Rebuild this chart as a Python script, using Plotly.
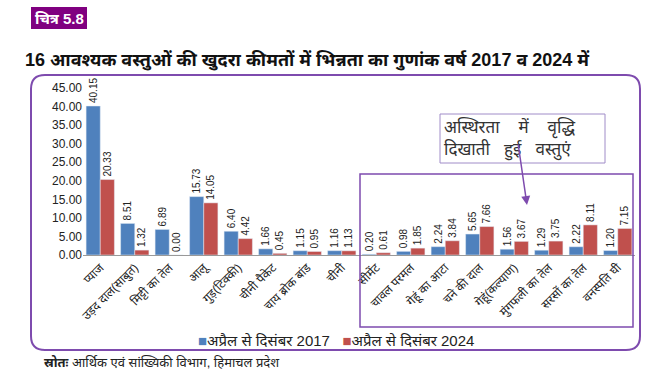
import plotly.graph_objects as go

categories = ["प्याज", "उड़द दाल(साबुत)", "मिट्टी का तेल", "आलू", "गुड़(टिक्की)", "चीनी पैकेट",
              "चाय ब्रोक बांड", "चीनी", "सीमेंट", "चावल परमल", "गेहूं का आटा", "चने की दाल",
              "गेहूं(कल्याण)", "मुंगफली का तेल", "सरसों का तेल", "वनस्पति घी"]
values_2017 = [40.15, 8.51, 6.89, 15.73, 6.40, 1.66, 1.15, 1.16, 0.20, 0.98, 2.24, 5.65, 1.56, 1.29, 2.22, 1.20]
values_2024 = [20.33, 1.32, 0.00, 14.05, 4.42, 0.45, 0.95, 1.13, 0.61, 1.85, 3.84, 7.66, 3.67, 3.75, 8.11, 7.15]
series_names = ["अप्रैल से दिसंबर 2017", "अप्रैल से दिसंबर 2024"]
y_ticks = [0, 5, 10, 15, 20, 25, 30, 35, 40, 45]

BLUE = "#4F81BD"
RED = "#C0504D"
PURPLE = "#7E4BAE"
FONT = "Liberation Sans, Noto Sans, sans-serif"

fig = go.Figure()
for name, vals, col in [(series_names[0], values_2017, BLUE), (series_names[1], values_2024, RED)]:
    fig.add_trace(go.Bar(
        x=categories, y=vals, name=name, marker_color=col,
        text=[f"{v:.2f}" for v in vals], textposition="outside", textangle=-90,
        textfont=dict(size=10, color="#222", family=FONT),
        cliponaxis=False, constraintext="none", showlegend=False,
    ))

fig.update_layout(
    width=668, height=379,
    margin=dict(l=83, r=33, t=88, b=124),
    paper_bgcolor="white", plot_bgcolor="white",
    barmode="group", bargap=0.18, bargroupgap=0,
    font=dict(family=FONT, color="#222"),
    showlegend=False,
)
fig.update_xaxes(tickangle=-45, tickfont=dict(size=12, color="#222"), showline=True,
                 linecolor="#999", linewidth=1, ticks="")
fig.update_yaxes(range=[0, 45], tickvals=y_ticks, ticktext=[f"{t:.2f}" for t in y_ticks],
                 tickfont=dict(size=12, color="#222"), showgrid=False, zeroline=False,
                 showline=False)

W, H = 668, 379
L, R, T, B = 83, 33, 88, 124
pw, ph = W - L - R, H - T - B
def px(x): return (x - L) / pw
def py(y): return (H - B - y) / ph

# Header label
fig.add_shape(type="rect", xref="paper", yref="paper", x0=px(31), x1=px(87), y0=py(29), y1=py(7),
              fillcolor="#800080", line=dict(width=0), layer="below")
fig.add_annotation(xref="paper", yref="paper", x=px(59), y=py(18), xanchor="center", yanchor="middle",
                   text="<b>चित्र 5.8</b>", showarrow=False,
                   font=dict(size=15, color="white", family=FONT))
# Title
fig.add_annotation(xref="paper", yref="paper", x=px(23), y=py(60), xanchor="left", yanchor="middle",
                   text="<b>16 आवश्यक वस्तुओं की खुदरा कीमतों में भिन्नता का गुणांक वर्ष 2017 व 2024 में</b>",
                   showarrow=False, font=dict(size=18, color="#111", family=FONT))
# Legend (manual)
fig.add_annotation(xref="paper", yref="paper", x=px(196), y=py(340), xanchor="left", yanchor="middle",
                   text=(f"<span style='color:{BLUE}'>■</span>{series_names[0]}&nbsp;&nbsp;&nbsp;"
                         f"<span style='color:{RED}'>■</span>{series_names[1]}"),
                   showarrow=False, font=dict(size=15, color="#222", family=FONT))
# Source
fig.add_annotation(xref="paper", yref="paper", x=px(42), y=py(362), xanchor="left", yanchor="middle",
                   text="<b>स्रोतः</b> आर्थिक एवं सांख्यिकी विभाग, हिमाचल प्रदेश",
                   showarrow=False, font=dict(size=13, color="#222", family=FONT))

# Outer rounded box
x0, x1, y0, y1, r = px(31), px(640), py(350), py(75), 14
rx, ry = r / pw, r / ph
path = (f"M {x0+rx},{y1} L {x1-rx},{y1} Q {x1},{y1} {x1},{y1-ry} L {x1},{y0+ry} "
        f"Q {x1},{y0} {x1-rx},{y0} L {x0+rx},{y0} Q {x0},{y0} {x0},{y0+ry} "
        f"L {x0},{y1-ry} Q {x0},{y1} {x0+rx},{y1} Z")
fig.add_shape(type="path", path=path, xref="paper", yref="paper",
              line=dict(color=PURPLE, width=2))
# Inner rectangle highlighting items
fig.add_shape(type="rect", xref="paper", yref="paper", x0=px(360), x1=px(633), y0=py(327), y1=py(174),
              line=dict(color=PURPLE, width=1.5))
# Callout box
fig.add_shape(type="rect", xref="paper", yref="paper", x0=px(440), x1=px(605), y0=py(163), y1=py(114),
              line=dict(color="#A08CC8", width=1))
fig.add_annotation(xref="paper", yref="paper", x=px(442), y=py(139), xanchor="left", yanchor="middle",
                   text=("अस्थिरता&nbsp;&nbsp;&nbsp;&nbsp;में&nbsp;&nbsp;&nbsp;&nbsp;वृद्धि<br>"
                         "दिखाती&nbsp;&nbsp;&nbsp;हुई&nbsp;&nbsp;&nbsp;वस्तुएं"),
                   showarrow=False, align="left",
                   font=dict(size=17, color="#333", family=FONT))
fig.add_annotation(xref="paper", yref="paper", x=px(527), y=py(205), ax=-9, ay=-62,
                   axref="pixel", ayref="pixel", showarrow=True, arrowhead=2, arrowsize=1.2,
                   arrowwidth=1.5, arrowcolor=PURPLE, text="")

fig.write_html("out.html", config={"displayModeBar": False},
               post_script="document.body.style.margin='0';")
